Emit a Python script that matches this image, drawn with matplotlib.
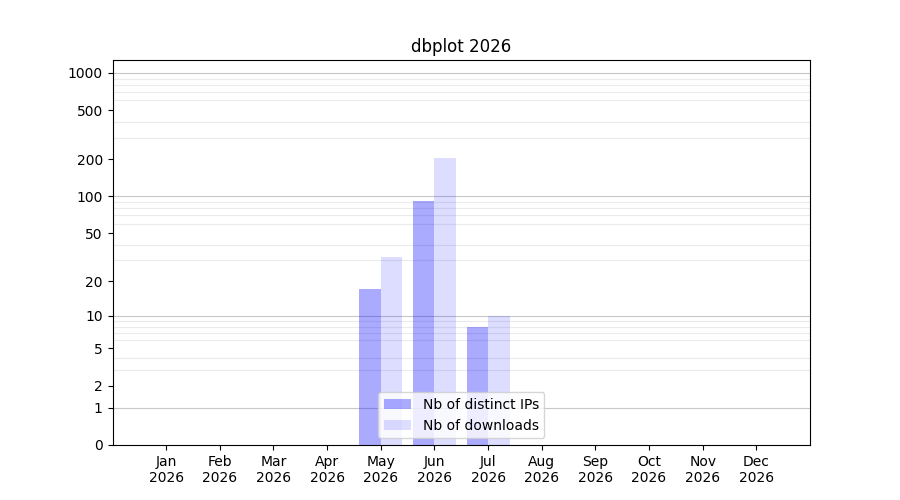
import numpy as np
import matplotlib.pyplot as plt

months = ['Jan', 'Feb', 'Mar', 'Apr', 'May', 'Jun', 'Jul', 'Aug', 'Sep', 'Oct', 'Nov', 'Dec']
year = 2026
distinct_ips = [0, 0, 0, 0, 17, 92, 8, 0, 0, 0, 0, 0]
downloads = [0, 0, 0, 0, 32, 205, 10, 0, 0, 0, 0, 0]
ytick_values = [0, 1, 2, 5, 10, 20, 50, 100, 200, 500, 1000]


def fwd(y):
    return np.log10(1 + np.clip(y, 0, None))


def inv(y):
    return 10 ** y - 1


fig, ax = plt.subplots(figsize=(9, 5), dpi=100)
x = np.arange(len(months))

ax.bar(x - 0.4, distinct_ips, width=0.4, align='edge', color='blue', alpha=1 / 3,
       label='Nb of distinct IPs')
ax.bar(x, downloads, width=0.4, align='edge', color='blue', alpha=0.133,
       label='Nb of downloads')

ax.set_yscale('function', functions=(fwd, inv))
ax.set_ylim(0, 1270)
ax.set_xlim(-1, 12)

ax.set_yticks(ytick_values)
ax.set_yticklabels([str(v) for v in ytick_values])
minor = [m * 10 ** d for d in range(3) for m in range(2, 10)]
ax.set_yticks(minor, minor=True)
ax.tick_params(axis='y', which='minor', length=0)
ax.grid(True, axis='y', which='minor', color='#ebebeb', linewidth=0.8)
for d in [1, 10, 100, 1000]:
    ax.axhline(d, color='#c8c8c8', linewidth=0.8, zorder=0.5)
ax.set_axisbelow(True)

ax.set_xticks(x)
ax.set_xticklabels([f'{m}\n{year}' for m in months])

ax.set_title(f'dbplot {year}')
ax.legend(loc='lower center')

plt.savefig('out.png')
